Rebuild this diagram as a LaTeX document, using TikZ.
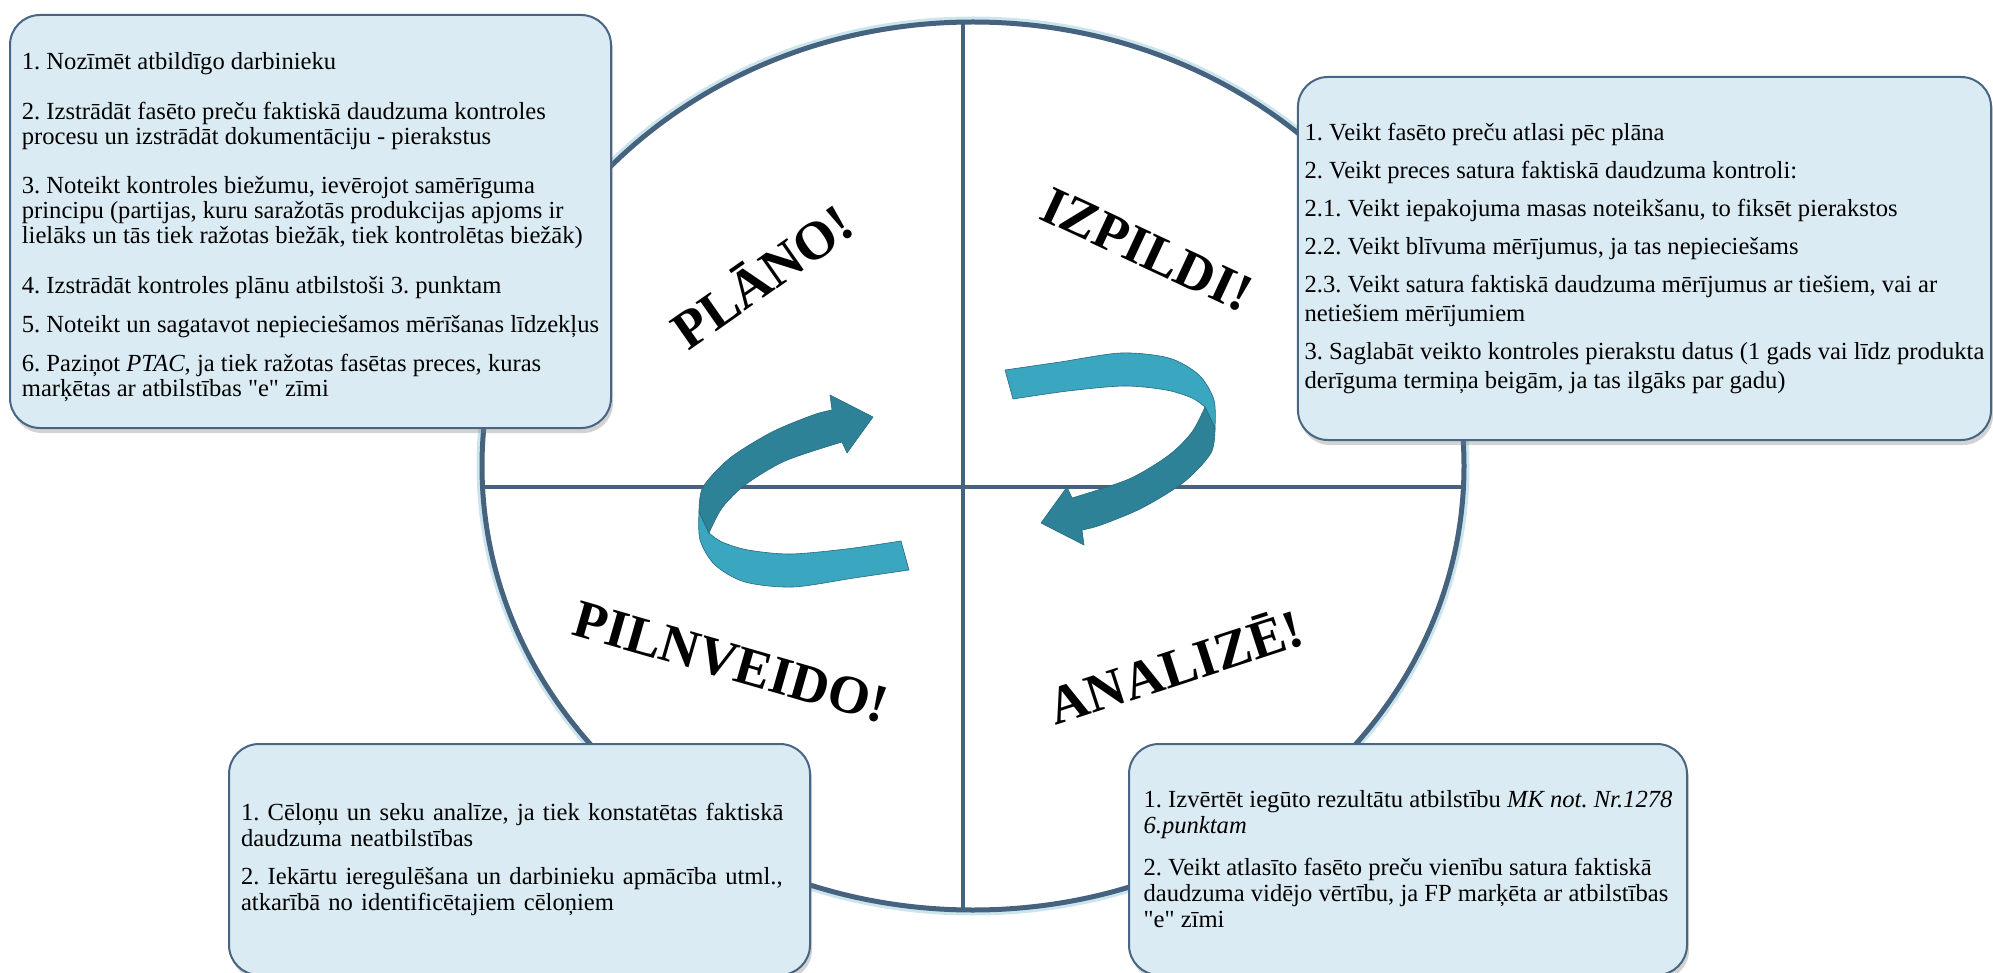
\documentclass[tikz,border=0pt]{standalone}
\usepackage{fontspec}
\setmainfont{Liberation Serif}[Ligatures=TeXOff]
\usetikzlibrary{shadows}
\frenchspacing

\definecolor{rim}{RGB}{69,98,127}
\definecolor{glow}{RGB}{170,212,224}
\definecolor{boxfill}{RGB}{219,235,243}
\definecolor{boxline}{RGB}{72,101,131}
\definecolor{ribbonlight}{RGB}{58,166,192}
\definecolor{ribbondark}{RGB}{46,130,152}
\definecolor{ribbonedge}{RGB}{40,105,125}

% one turning ribbon arrow, the second one is this turned by 180 degrees
\newcommand{\turnarrow}{%
	\fill[ribbonlight, draw=ribbonedge, line width=0.3pt] plot[smooth] coordinates {(909,570) (854,578) (793,587) (745,582) (715,565) (700,540) (699,512)} -- plot[smooth] coordinates {(709,533) (722,542) (748,550) (790,554) (846,549) (901,541)} -- cycle;
	\fill[ribbondark, draw=ribbonedge, line width=0.3pt] plot[smooth] coordinates {(699,512) (703,487) (730,458) (772,432) (813,415) (832,410)} -- (830,395) -- (873,417) -- (847,453) -- plot[smooth] coordinates {(842,442) (785,461) (745,485) (722,508) (709,533)} -- cycle;
}

\begin{document}
\begin{tikzpicture}[x=0.5pt, y=-0.5pt,
		box/.style={rectangle, draw=boxline, line width=1pt, fill=boxfill, rounded corners=15pt, align=left, font=\fontsize{12.3pt}{12.5pt}\selectfont, drop shadow={shadow xshift=1pt, shadow yshift=-2.5pt, opacity=0.35}},
		word/.style={font=\bfseries\fontsize{27pt}{27pt}\selectfont}]
	\useasboundingbox (0,0) rectangle (1993,973);
	% wheel
	\draw[glow, line width=3.5pt, opacity=0.6] (973,466) ellipse [x radius=493, y radius=446];
	\fill[white] (973,466) ellipse [x radius=491, y radius=444];
	\begin{scope}
		\clip (973,466) ellipse [x radius=491, y radius=444];
		\draw[rim, line width=2pt] (963,0) -- (963,973);
		\draw[rim, line width=2pt] (0,487) -- (1993,487);
	\end{scope}
	\draw[rim, line width=2.5pt] (973,466) ellipse [x radius=491, y radius=444];
	% arrows
	\turnarrow
	\begin{scope}[rotate around={180:(957,470)}]
		\turnarrow
	\end{scope}
	% quarter words
	\node(PLANO) at (761,275)[word, rotate=35]{PLĀNO!};
	\node(IZPILDI) at (1147,250)[word, rotate=-25]{IZPILDI!};
	\node(PILNVEIDO) at (731,662)[word, rotate=-16]{PILNVEIDO!};
	\node(ANALIZE) at (1175,665)[word, rotate=18]{ANALIZĒ!};
	% boxes
	\node(PLAN) at (310.5,221.5)[box, minimum width=300.5pt, minimum height=206.5pt]{\rule{0pt}{14pt}1. Nozīmēt atbildīgo darbinieku\\[12.3pt]
		2. Izstrādāt fasēto preču faktiskā daudzuma kontroles\\
		procesu un izstrādāt dokumentāciju - pierakstus\\[12.3pt]
		3. Noteikt kontroles biežumu, ievērojot samērīguma\\
		principu (partijas, kuru saražotās produkcijas apjoms ir\\
		lielāks un tās tiek ražotas biežāk, tiek kontrolētas biežāk)\\[12.3pt]
		4. Izstrādāt kontroles plānu atbilstoši 3. punktam\\[7pt]
		5. Noteikt un sagatavot nepieciešamos mērīšanas līdzekļus\\[7pt]
		6. Paziņot \textit{PTAC}, ja tiek ražotas fasētas preces, kuras\\
		marķētas ar atbilstības "e" zīmi};
	\node(DO) at (1644.5,258.5)[box, minimum width=345.5pt, minimum height=181.5pt, font=\fontsize{12.3pt}{14.5pt}\selectfont]{1. Veikt fasēto preču atlasi pēc plāna\\[4.5pt]
		2. Veikt preces satura faktiskā daudzuma kontroli:\\[4.5pt]
		2.1. Veikt iepakojuma masas noteikšanu, to fiksēt pierakstos\\[4.5pt]
		2.2. Veikt blīvuma mērījumus, ja tas nepieciešams\\[4.5pt]
		2.3. Veikt satura faktiskā daudzuma mērījumus ar tiešiem, vai ar\\
		netiešiem mērījumiem\\[4.5pt]
		3. Saglabāt veikto kontroles pierakstu datus (1 gads vai līdz produkta\\
		derīguma termiņa beigām, ja tas ilgāks par gadu)};
	\node(ACT) at (519.5,859.5)[box, minimum width=290.5pt, minimum height=115.5pt, inner xsep=6pt, text width=278.5pt, font=\fontsize{12.3pt}{13pt}\selectfont]{1. Cēloņu un seku analīze, ja tiek konstatētas faktiskā\\
		daudzuma neatbilstības\\[6pt]
		2. Iekārtu ieregulēšana un darbinieku apmācība utml.,\\
		atkarībā no identificētajiem cēloņiem};
	\node(CHECK) at (1408,859.5)[box, minimum width=279pt, minimum height=115.5pt, font=\fontsize{12.3pt}{13pt}\selectfont]{1. Izvērtēt iegūto rezultātu atbilstību \textit{MK not. Nr.1278}\\
		\textit{6.punktam}\\[8pt]
		2. Veikt atlasīto fasēto preču vienību satura faktiskā\\
		daudzuma vidējo vērtību, ja FP marķēta ar atbilstības\\
		"e" zīmi};
\end{tikzpicture}
\end{document}
